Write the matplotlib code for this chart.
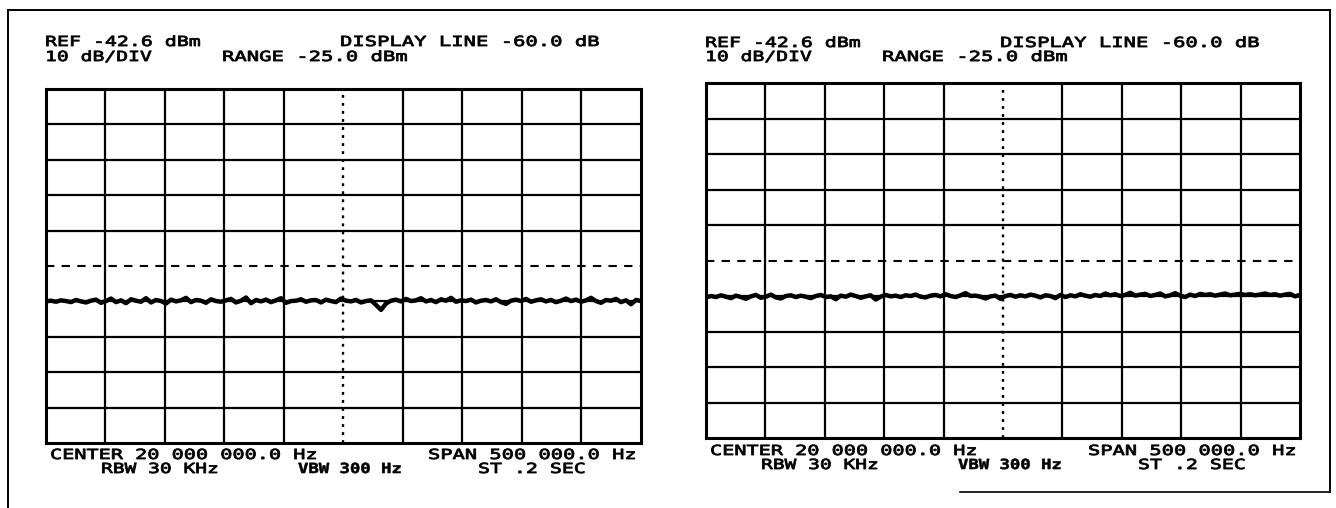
import numpy as np
import matplotlib
matplotlib.use("Agg")
import matplotlib.pyplot as plt
from matplotlib import patheffects
from matplotlib.transforms import Affine2D

# ---------------- data ----------------
ref_level = -42.6          # dBm, top of screen
db_per_div = 10.0
n_div = 10
display_line = -92.6       # dB level of the dashed display line
center_hz = 20_000_000.0
span_hz = 500_000.0

header_left = ["REF -42.6 dBm", "10 dB/DIV"]
header_mid = ["DISPLAY LINE -60.0 dB", "RANGE -25.0 dBm"]
footer = ["CENTER 20 000 000.0 Hz", "SPAN 500 000.0 Hz", "RBW 30 KHz", "VBW 300 Hz", "ST .2 SEC"]

# trace levels read from the screens (dB)
left_trace = [
    -102.6, -102.4, -102.7, -102.3, -102.5, -102.8, -102.2, -102.6, -102.9, -102.4,
    -102.1, -103.0, -102.5, -101.8, -102.8, -102.3, -103.1, -102.0, -102.4, -102.7,
    -101.7, -102.9, -102.2, -102.5, -103.2, -102.1, -102.6, -102.3, -101.6, -102.8,
    -102.2, -102.4, -103.0, -102.0, -102.5, -102.7, -102.3, -101.9, -102.9, -102.4,
    -101.5, -103.1, -102.2, -102.6, -102.1, -102.8, -102.3, -101.7, -103.0, -102.5,
    -102.4, -102.0, -102.7, -102.3, -102.2, -102.9, -102.1, -102.5, -102.8, -101.8,
    -102.4, -102.6, -102.2, -102.9, -102.5, -102.3, -103.6, -105.0, -103.2, -102.4,
    -102.1, -102.6, -101.9, -102.5, -102.3, -101.7, -102.6, -102.2, -102.8, -102.0,
    -102.4, -101.6, -102.7, -102.3, -102.5, -102.1, -102.9, -102.4, -102.2, -102.6,
    -102.0, -102.8, -103.3, -102.4, -102.1, -102.5, -101.9, -102.7, -102.3, -102.0,
    -102.6, -102.2, -102.8, -102.4, -101.8, -102.5, -102.1, -102.7, -102.3, -101.6,
    -102.5, -103.0, -102.2, -102.4, -101.9, -102.8, -102.3, -103.4, -102.2, -102.5,
]
right_trace = [
    -103.0, -102.6, -102.9, -102.4, -102.8, -103.2, -102.5, -102.9, -103.4, -102.7,
    -102.3, -103.1, -102.8, -102.2, -103.0, -103.3, -102.6, -102.4, -102.9, -102.5,
    -102.8, -103.2, -102.6, -102.3, -102.9, -102.7, -103.5, -102.5, -102.8, -102.2,
    -102.6, -103.1, -102.7, -102.4, -103.6, -102.8, -102.3, -102.7, -102.5, -102.9,
    -102.4, -102.6, -102.2, -102.8, -103.0, -102.5, -102.3, -102.7, -102.1, -102.6,
    -102.9, -102.4, -101.8, -102.6, -102.5, -102.8, -103.3, -102.7, -102.5, -103.4,
    -102.6, -102.3, -102.8, -102.4, -102.7, -102.2, -102.5, -103.0, -102.4, -102.6,
    -103.2, -102.3, -102.9, -102.4, -102.7, -102.1, -102.5, -102.8, -102.3, -102.6,
    -101.9, -102.4, -102.1, -102.6, -102.3, -101.7, -102.5, -102.2, -102.0, -102.6,
    -102.3, -101.9, -102.7, -102.4, -101.8, -102.5, -102.9, -102.2, -102.6, -102.0,
    -102.3, -102.1, -102.5, -102.2, -101.9, -102.4, -102.2, -102.0, -102.3, -102.1,
    -102.4, -102.2, -101.9, -102.3, -102.1, -102.5, -102.2, -102.0, -102.7, -102.3,
]


class Stretch(patheffects.AbstractPathEffect):
    """Widen glyphs horizontally from the text origin and thicken strokes
    (plotter-style wide font)."""

    def __init__(self, sx=1.0, sy=1.0, stroke=0.6):
        super().__init__()
        self.sx = sx
        self.sy = sy
        self.stroke = stroke

    def draw_path(self, renderer, gc, tpath, affine, rgbFace=None):
        affine = Affine2D().scale(self.sx, self.sy) + affine
        gc0 = renderer.new_gc()
        gc0.copy_properties(gc)
        gc0.set_linewidth(self.stroke)
        gc0.set_foreground("black")
        gc0.set_joinstyle("round")
        renderer.draw_path(gc0, tpath, affine, rgbFace)
        gc0.restore()


# ---------------- layout ----------------
W, H = 1336, 508
fig = plt.figure(figsize=(W / 100, H / 100), dpi=100)
fig.patch.set_facecolor("white")
plt.rcParams["font.family"] = ["DejaVu Sans Mono"]
renderer = fig.canvas.get_renderer()


def fx(x):
    return x / W


def fy(y):
    return 1 - y / H


def put(text, x_left, x_right, y, bold=False):
    t = fig.text(fx(x_left), fy(y), text, fontsize=10, va="center", ha="left",
                 fontweight="bold" if bold else "normal", color="black")
    w = t.get_window_extent(renderer).width
    t.set_path_effects([Stretch(sx=(x_right - x_left) / w, stroke=0.4 if bold else 0.6)])
    return t


panels = [
    dict(trace=left_trace, box=(46, 89, 641, 443), ytop=(42, 57), ybot=(455, 469)),
    dict(trace=right_trace, box=(706, 83, 1300, 438), ytop=(43, 57), ybot=(451, 465)),
]

# text extents relative to the grid's left edge (pixels)
hdr_x = [(-1, 155), (-1, 106)]
mid_x = [(294, 554), (176, 362)]
ftr_x = [(4, 272), (382, 591), (55, 173), (252, 356), (432, 540)]

for p in panels:
    x0, y0, x1, y1 = p["box"]
    ax = fig.add_axes([fx(x0), fy(y1), fx(x1 - x0), (y1 - y0) / H])
    f_lo = center_hz - span_hz / 2
    f_hi = center_hz + span_hz / 2
    bottom = ref_level - n_div * db_per_div
    ax.set_xlim(f_lo, f_hi)
    ax.set_ylim(bottom, ref_level)

    xt = np.linspace(f_lo, f_hi, n_div + 1)
    yt = np.linspace(bottom, ref_level, n_div + 1)
    for i, xv in enumerate(xt[1:-1], start=1):
        if i == n_div // 2:
            ax.axvline(xv, color="black", lw=1.7, ls=(0, (1.2, 2.2)))
        else:
            ax.axvline(xv, color="black", lw=1.6)
    for yv in yt[1:-1]:
        if abs(yv - display_line) < 1e-6:
            continue
        ax.axhline(yv, color="black", lw=1.6)
    ax.axhline(display_line, color="black", lw=1.5, ls=(0, (4, 3.5)))

    tr = np.array(p["trace"])
    freqs = np.linspace(f_lo, f_hi, len(tr))
    ax.plot(freqs, tr, color="black", lw=3.2, solid_joinstyle="round")

    ax.set_xticks([])
    ax.set_yticks([])
    for s in ax.spines.values():
        s.set_linewidth(2.2)
        s.set_color("black")

    # header
    put(header_left[0], x0 + hdr_x[0][0], x0 + hdr_x[0][1], p["ytop"][0])
    put(header_left[1], x0 + hdr_x[1][0], x0 + hdr_x[1][1], p["ytop"][1])
    put(header_mid[0], x0 + mid_x[0][0], x0 + mid_x[0][1], p["ytop"][0])
    put(header_mid[1], x0 + mid_x[1][0], x0 + mid_x[1][1], p["ytop"][1])
    # footer
    put(footer[0], x0 + ftr_x[0][0], x0 + ftr_x[0][1], p["ybot"][0])
    put(footer[1], x0 + ftr_x[1][0], x0 + ftr_x[1][1], p["ybot"][0])
    put(footer[2], x0 + ftr_x[2][0], x0 + ftr_x[2][1], p["ybot"][1])
    put(footer[3], x0 + ftr_x[3][0], x0 + ftr_x[3][1], p["ybot"][1], bold=True)
    put(footer[4], x0 + ftr_x[4][0], x0 + ftr_x[4][1], p["ybot"][1])

# outer frame
frame = fig.add_axes([0, 0, 1, 1], facecolor="none")
frame.set_xlim(0, W)
frame.set_ylim(H, 0)
frame.axis("off")
frame.plot([8, 1330], [10, 10], color="black", lw=1.4)
frame.plot([8, 8], [10, 508], color="black", lw=1.4)
frame.plot([1330, 1330], [10, 492], color="black", lw=1.4)
frame.plot([960, 1330], [492, 492], color="black", lw=1.2)

fig.savefig("out.png", dpi=100, facecolor="white")
